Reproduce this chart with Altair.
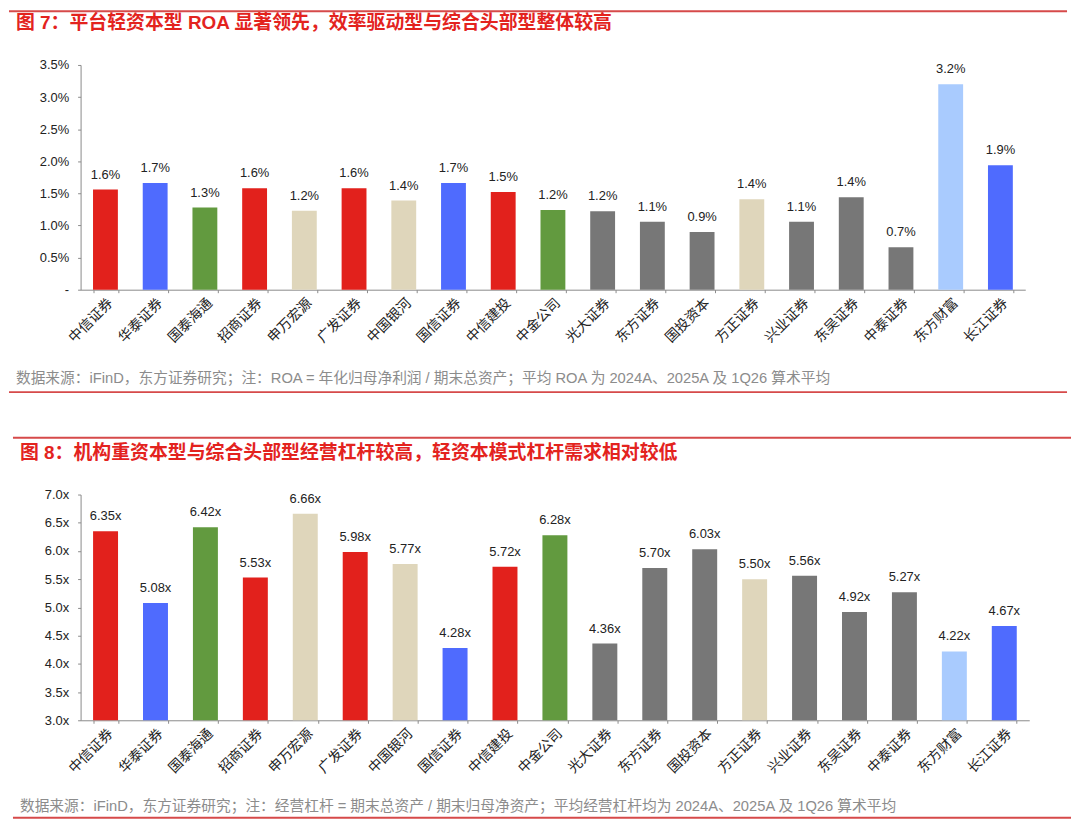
import altair as alt
import pandas as pd

brokers = ["中信证券", "华泰证券", "国泰海通", "招商证券", "申万宏源", "广发证券", "中国银河",
           "国信证券", "中信建投", "中金公司", "光大证券", "东方证券", "国投资本", "方正证券",
           "兴业证券", "东吴证券", "中泰证券", "东方财富", "长江证券"]
groups = ["A", "B", "C", "A", "D", "A", "D", "B", "A", "C", "E", "E", "E", "D", "E", "E", "E", "F", "B"]
roa = [1.56, 1.66, 1.28, 1.58, 1.23, 1.58, 1.39, 1.66, 1.52, 1.24, 1.22, 1.06, 0.90, 1.41,
       1.06, 1.44, 0.66, 3.20, 1.94]
lev = [6.35, 5.08, 6.42, 5.53, 6.66, 5.98, 5.77, 4.28, 5.72, 6.28, 4.36, 5.70, 6.03, 5.50,
       5.56, 4.92, 5.27, 4.22, 4.67]
roa_ticks = [0, 0.5, 1.0, 1.5, 2.0, 2.5, 3.0, 3.5]
lev_ticks = [3.0, 3.5, 4.0, 4.5, 5.0, 5.5, 6.0, 6.5, 7.0]
group_domain = ["A", "B", "C", "D", "E", "F"]
group_colors = ["#E2211C", "#4F6BFE", "#629A3F", "#DFD6BB", "#777777", "#A9CBFE"]

title1 = "图 7：平台轻资本型 ROA 显著领先，效率驱动型与综合头部型整体较高"
title2 = "图 8：机构重资本型与综合头部型经营杠杆较高，轻资本模式杠杆需求相对较低"
source1 = "数据来源：iFinD，东方证券研究；注：ROA = 年化归母净利润 / 期末总资产；平均 ROA 为 2024A、2025A 及 1Q26 算术平均"
source2 = "数据来源：iFinD，东方证券研究；注：经营杠杆 = 期末总资产 / 期末归母净资产；平均经营杠杆均为 2024A、2025A 及 1Q26 算术平均"

FONT = "Liberation Sans, Arial, Noto Sans CJK SC, sans-serif"
TITLE_RED = "#E3231E"
LINE_RED = "#D64A4A"
AXIS_GREY = "#8A8A8A"


def panel(values, width, height, domain, ticks, base, ylab_expr, vlab_expr,
          title, source, top_line, title_y, source_y, bottom_line, left, right, text_x):
    df = pd.DataFrame({"broker": brokers, "v": values, "g": groups})
    base_chart = alt.Chart(df).transform_calculate(lab=vlab_expr)
    x = alt.X("broker:N", sort=brokers,
              scale=alt.Scale(paddingInner=0.5, paddingOuter=0.25),
              axis=alt.Axis(title=None, labelAngle=-45, labelFontSize=14, labelColor="#222222",
                            labelFont=FONT, tickBand="extent", tickSize=3, tickColor=AXIS_GREY,
                            domainColor=AXIS_GREY, labelPadding=3, labelOverlap=False))
    y = alt.Y("v:Q", scale=alt.Scale(domain=domain, nice=False, zero=False),
              axis=alt.Axis(title=None, values=ticks, labelExpr=ylab_expr, grid=False,
                            labelFontSize=13, labelColor="#222222", labelFont=FONT,
                            tickSize=3, tickColor=AXIS_GREY, domainColor=AXIS_GREY,
                            labelPadding=9, labelOverlap=False, labelFlush=False))
    bars = base_chart.mark_bar().encode(
        x=x, y=y, y2=alt.datum(base),
        color=alt.Color("g:N", scale=alt.Scale(domain=group_domain, range=group_colors), legend=None),
    )
    labels = base_chart.mark_text(dy=-8, baseline="bottom", fontSize=13, color="#222222",
                                  font=FONT).encode(x=x, y=y, text="lab:N")
    t = alt.Chart(pd.DataFrame({"t": [title]})).mark_text(
        align="left", baseline="middle", fontSize=19, fontWeight="bold", color=TITLE_RED,
        font=FONT).encode(x=alt.value(text_x), y=alt.value(title_y), text="t:N")
    s = alt.Chart(pd.DataFrame({"t": [source]})).mark_text(
        align="left", baseline="middle", fontSize=14.8, color="#8C8C8C",
        font=FONT).encode(x=alt.value(text_x), y=alt.value(source_y), text="t:N")
    lines = alt.Chart(pd.DataFrame({"y": [top_line, bottom_line]})).mark_rule(
        color=LINE_RED, strokeWidth=2).encode(
        x=alt.value(left), x2=alt.value(right), y=alt.Y("y:Q", scale=None))
    return alt.layer(bars, labels, t, s, lines).properties(width=width, height=height)


p1 = panel(roa, 950, 226, [0, 3.5], roa_ticks, 0,
           "datum.value == 0 ? '-' : format(datum.value, '.1f') + '%'",
           "format(datum.v, '.1f') + '%'",
           title1, source1, -54, -42, 316, 329, -72, 992, -65)
p2 = panel(lev, 954, 227, [3, 7], lev_ticks, 3,
           "format(datum.value, '.1f') + 'x'",
           "format(datum.v, '.2f') + 'x'",
           title2, source2, -57, -42, 314, 325, -68, 996, -61)

chart = alt.vconcat(p1, p2, spacing=44).properties(
    padding={"left": 0, "top": 0, "right": 0, "bottom": 0}
).configure_view(stroke=None)

chart.save("out.html", embed_options={"renderer": "svg", "actions": False})
